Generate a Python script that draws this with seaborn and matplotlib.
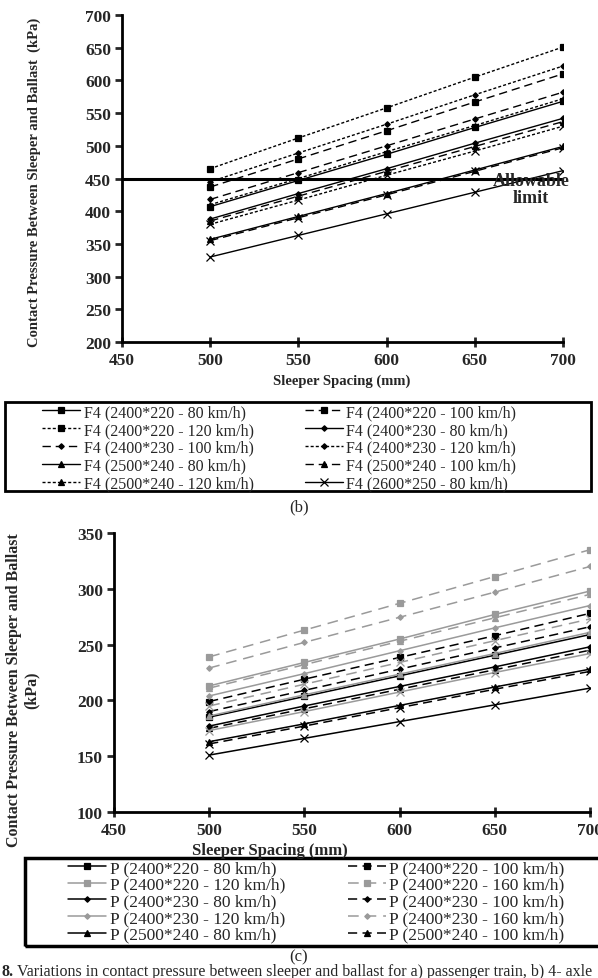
import matplotlib
matplotlib.use("Agg")
import matplotlib.pyplot as plt
import seaborn as sns
from matplotlib.patches import Rectangle

sns.set_style("ticks")
plt.rcParams['font.family'] = ['Liberation Serif', 'DejaVu Serif']

W, H = 598, 979

def fx(px):
    return px / W

def fy(py):
    return 1 - py / H

spacing = [500, 550, 600, 650, 700]

# ---------------- (b) F4 freight train ----------------
f4_2400x220_80 = [407, 447, 487, 528, 568]
f4_2400x220_100 = [437, 480, 523, 567, 610]
f4_2400x220_120 = [465, 512, 558, 605, 651]
f4_2400x230_80 = [388, 427, 465, 504, 542]
f4_2400x230_100 = [418, 459, 500, 541, 582]
f4_2400x230_120 = [445, 489, 533, 578, 622]
f4_2500x240_80 = [357, 392, 427, 463, 499]
f4_2500x240_100 = [385, 423, 461, 499, 537]
f4_2500x240_120 = [410, 450, 491, 531, 572]
f4_2600x250_80 = [330, 363, 396, 429, 462]
f4_2600x250_100 = [355, 390, 425, 461, 497]
f4_2600x250_120 = [380, 417, 455, 492, 530]

f4_series = [f4_2400x220_80, f4_2400x220_100, f4_2400x220_120,
             f4_2400x230_80, f4_2400x230_100, f4_2400x230_120,
             f4_2500x240_80, f4_2500x240_100, f4_2500x240_120,
             f4_2600x250_80, f4_2600x250_100, f4_2600x250_120]
f4_labels = ["F4 (2400*220 - 80 km/h)", "F4 (2400*220 - 100 km/h)", "F4 (2400*220 - 120 km/h)",
             "F4 (2400*230 - 80 km/h)", "F4 (2400*230 - 100 km/h)", "F4 (2400*230 - 120 km/h)",
             "F4 (2500*240 - 80 km/h)", "F4 (2500*240 - 100 km/h)", "F4 (2500*240 - 120 km/h)",
             "F4 (2600*250 - 80 km/h)", "_F4 (2600*250 - 100 km/h)", "_F4 (2600*250 - 120 km/h)"]
allowable = 450

# ---------------- (c) passenger train ----------------
p_2400x220_80 = [185, 203.5, 222, 240.5, 259]
p_2400x220_100 = [199, 219, 238.5, 258, 278]
p_2400x220_120 = [213, 234, 255, 277, 298]
p_2400x220_160 = [239, 263, 287, 311, 335]
p_2400x230_80 = [177, 195, 212.5, 230, 248]
p_2400x230_100 = [190, 209, 228, 247, 266]
p_2400x230_120 = [204, 224, 244.5, 265, 285]
p_2400x230_160 = [229, 252, 274.5, 297, 320]
p_2500x240_80 = [163, 179, 195.5, 212, 228]
p_2500x240_100 = [175, 192.5, 210, 227.5, 245]
p_2500x240_120 = [186, 205, 223.5, 242, 261]
p_2500x240_160 = [211, 232, 253, 274, 295]
p_2600x250_80 = [151, 166, 181, 196, 211]
p_2600x250_100 = [161, 177, 193.5, 210, 226]
p_2600x250_120 = [173, 190, 207.5, 225, 242]
p_2600x250_160 = [195, 214.5, 234, 253.5, 273]

p_series = [p_2400x220_80, p_2400x220_100, p_2400x220_120, p_2400x220_160,
            p_2400x230_80, p_2400x230_100, p_2400x230_120, p_2400x230_160,
            p_2500x240_80, p_2500x240_100, p_2500x240_120, p_2500x240_160,
            p_2600x250_80, p_2600x250_100, p_2600x250_120, p_2600x250_160]
p_labels = ["P (2400*220 - 80 km/h)", "P (2400*220 - 100 km/h)",
            "P (2400*220 - 120 km/h)", "P (2400*220 - 160 km/h)",
            "P (2400*230 - 80 km/h)", "P (2400*230 - 100 km/h)",
            "P (2400*230 - 120 km/h)", "P (2400*230 - 160 km/h)",
            "P (2500*240 - 80 km/h)", "P (2500*240 - 100 km/h)",
            "_P (2500*240 - 120 km/h)", "_P (2500*240 - 160 km/h)",
            "_P (2600*250 - 80 km/h)", "_P (2600*250 - 100 km/h)",
            "_P (2600*250 - 120 km/h)", "_P (2600*250 - 160 km/h)"]

# styles
solid = '-'
long_dash = (0, (6, 3.5))
short_dash = (0, (2.2, 1.5))
mk = {'s': 4, 'D': 2.8, '^': 4, 'x': 6}
grey = '#9a9a9a'

tick_font = dict(family='Liberation Serif', weight='bold', size=12.5)


def style_axes(ax):
    sns.despine(ax=ax)
    for s in ['left', 'bottom']:
        ax.spines[s].set_linewidth(2)
        ax.spines[s].set_color('black')
    ax.tick_params(axis='y', direction='out', length=5, width=2, pad=3)
    ax.tick_params(axis='x', direction='inout', length=7, width=2, pad=4)
    for lab in ax.get_xticklabels() + ax.get_yticklabels():
        lab.set_fontproperties(matplotlib.font_manager.FontProperties(**tick_font))


fig = plt.figure(figsize=(W / 100, H / 100), dpi=100)

# ---------- top panel ----------
ax1 = fig.add_axes([fx(122), fy(343), fx(563) - fx(122), fy(16) - fy(343)])
f4_markers = ['s'] * 3 + ['D'] * 3 + ['^'] * 3 + ['x'] * 3
f4_styles = [solid, long_dash, short_dash] * 4
for vals, lab, m, ls in zip(f4_series, f4_labels, f4_markers, f4_styles):
    sns.lineplot(x=spacing, y=vals, ax=ax1, color='black', marker=m,
                 markersize=mk[m], markeredgecolor='black', markeredgewidth=0.9,
                 linestyle=ls, lw=1, label=lab, legend=False)
ax1.axhline(allowable, color='black', lw=2.2)
ax1.text(682, 434, "Allowable\nlimit", ha='center', va='center', fontsize=13,
         fontweight='bold', linespacing=0.95)
ax1.set_xlim(450, 700)
ax1.set_ylim(200, 700)
ax1.set_xticks([450, 500, 550, 600, 650, 700])
ax1.set_yticks(range(200, 701, 50))
ax1.set_xlabel("")
ax1.set_ylabel("")
style_axes(ax1)
fig.text(fx(342), fy(381), "Sleeper Spacing (mm)", ha='center', va='center',
         fontsize=10.5, fontweight='bold')
fig.text(fx(34), fy(182), "Contact Pressure Between Sleeper and Ballast  (kPa)",
         ha='center', va='center', rotation=90, fontsize=10.5, fontweight='bold')

h, l = ax1.get_legend_handles_labels()
h = h[0::2] + h[1::2]
l = l[0::2] + l[1::2]
fig.legend(h, l, loc='upper left', bbox_to_anchor=(fx(42), fy(405)), ncol=2,
           frameon=False, fontsize=11.5, handlelength=2.4, handletextpad=0.2,
           columnspacing=3.2, labelspacing=0.12, borderpad=0, borderaxespad=0)
fig.add_artist(Rectangle((fx(5), fy(492)), fx(591) - fx(5), fy(403) - fy(492),
                         transform=fig.transFigure, fill=False, lw=2, ec='black'))
fig.text(fx(299), fy(507), "(b)", ha='center', va='center', fontsize=12)

# ---------- bottom panel ----------
ax2 = fig.add_axes([fx(114), fy(813), fx(590) - fx(114), fy(534) - fy(813)])
p_markers = ['s'] * 4 + ['D'] * 4 + ['^'] * 4 + ['x'] * 4
p_styles = [solid, long_dash, solid, (0, (7, 4.5))] * 4
p_colors = ['black', 'black', grey, grey] * 4
for vals, lab, m, ls, c in zip(p_series, p_labels, p_markers, p_styles, p_colors):
    sns.lineplot(x=spacing, y=vals, ax=ax2, color=c, marker=m,
                 markersize=mk[m], markeredgecolor=c, markeredgewidth=0.9,
                 linestyle=ls, lw=1.1, label=lab, legend=False)
ax2.set_xlim(450, 700)
ax2.set_ylim(100, 350)
ax2.set_xticks([450, 500, 550, 600, 650, 700])
ax2.set_yticks(range(100, 351, 50))
ax2.set_xlabel("")
ax2.set_ylabel("")
style_axes(ax2)
fig.text(fx(270), fy(851), "Sleeper Spacing (mm)", ha='center', va='center',
         fontsize=12, fontweight='bold')
fig.text(fx(23), fy(690), "Contact Pressure Between Sleeper and Ballast\n(kPa)",
         ha='center', va='center', rotation=90, fontsize=11.5, fontweight='bold',
         linespacing=1.1)

h, l = ax2.get_legend_handles_labels()
h = h[0::2] + h[1::2]
l = l[0::2] + l[1::2]
fig.legend(h, l, loc='upper left', bbox_to_anchor=(fx(68), fy(861)), ncol=2,
           frameon=False, fontsize=12.5, handlelength=2.2, handletextpad=0.2,
           columnspacing=3.6, labelspacing=0.03, borderpad=0, borderaxespad=0)
fig.add_artist(Rectangle((fx(25), fy(947)), fx(610) - fx(25), fy(859) - fy(947),
                         transform=fig.transFigure, fill=False, lw=2.5, ec='black'))
fig.text(fx(299), fy(957), "(c)", ha='center', va='center', fontsize=12)

fig.text(fx(1), fy(972), "8.", ha='left', va='center', fontsize=11.5, fontweight='bold')
fig.text(fx(17), fy(972),
         "Variations in contact pressure between sleeper and ballast for a) passenger train, b) 4- axle",
         ha='left', va='center', fontsize=11.5)

fig.savefig("out.png", dpi=100)
